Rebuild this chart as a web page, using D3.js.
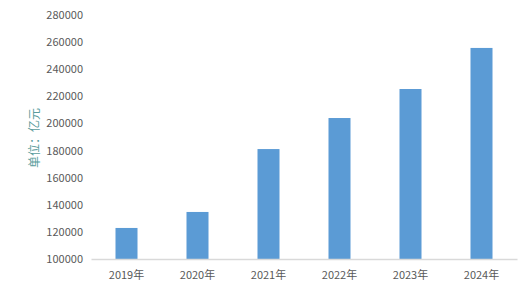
<!DOCTYPE html>
<html>
<head>
<meta charset="utf-8">
<script src="https://cdn.jsdelivr.net/npm/d3@7"></script>
<style>
  body { margin: 0; background: #fff; }
  text { font-family: "Microsoft YaHei", "Noto Sans CJK SC", "DejaVu Sans", sans-serif; }
</style>
</head>
<body>
<div id="chart"></div>
<script>
// chart data
const years = ["2019年", "2020年", "2021年", "2022年", "2023年", "2024年"];
const values = [122900, 134700, 181100, 204000, 225400, 255700];
const yTicks = [100000, 120000, 140000, 160000, 180000, 200000, 220000, 240000, 260000, 280000];
const yTitle = "单位：亿元";

const width = 531, height = 293;
const margin = { top: 15, right: 14, bottom: 34, left: 91 };

const svg = d3.select("#chart")
    .append("svg")
    .attr("width", width)
    .attr("height", height);

const x = d3.scaleBand()
    .domain(years)
    .range([margin.left, width - margin.right])
    .paddingInner(0.69)
    .paddingOuter(0.345);

const y = d3.scaleLinear()
    .domain([100000, 280000])
    .range([height - margin.bottom, margin.top]);

// bars
svg.append("g")
    .selectAll("rect")
    .data(values)
    .join("rect")
    .attr("x", (d, i) => x(years[i]))
    .attr("y", d => y(d))
    .attr("width", x.bandwidth())
    .attr("height", d => y(100000) - y(d))
    .attr("fill", "#5b9bd5");

// y axis (labels only)
const yAxis = svg.append("g")
    .attr("transform", `translate(${margin.left - 8},0)`)
    .call(d3.axisLeft(y).tickValues(yTicks).tickSize(0).tickPadding(0).tickFormat(d3.format("d")));
yAxis.select(".domain").remove();
yAxis.selectAll("text")
    .attr("fill", "#595959")
    .style("font-size", "11px");

// x axis
const xAxis = svg.append("g")
    .attr("transform", `translate(0,${y(100000)})`)
    .call(d3.axisBottom(x).tickSize(0).tickPadding(12).tickSizeOuter(0));
xAxis.select(".domain")
    .attr("stroke", "#d9d9d9")
    .attr("stroke-width", 1.3);
xAxis.selectAll("text")
    .attr("fill", "#595959")
    .style("font-size", "11px");

// y axis title
svg.append("text")
    .attr("transform", `translate(33,${(margin.top + height - margin.bottom) / 2 + 1}) rotate(-90)`)
    .attr("text-anchor", "middle")
    .attr("dominant-baseline", "central")
    .attr("fill", "#5a9c9c")
    .style("font-size", "12px")
    .text(yTitle);
</script>
</body>
</html>
